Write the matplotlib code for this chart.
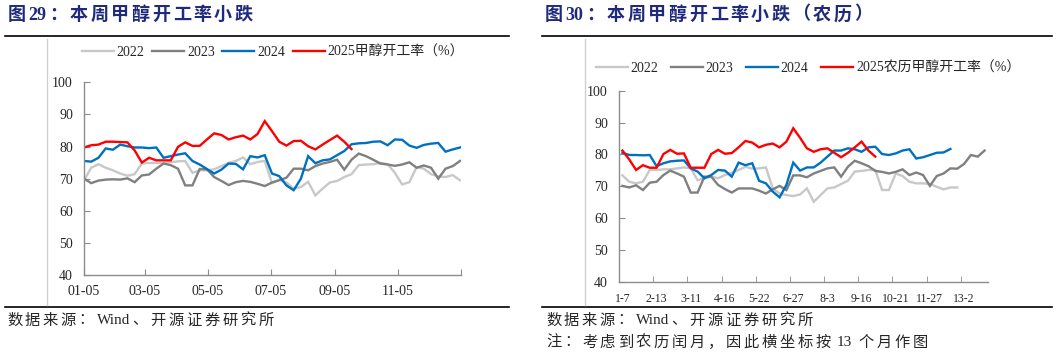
import matplotlib
matplotlib.use("Agg")
import matplotlib.pyplot as plt
from matplotlib.lines import Line2D
import numpy as np
import re

plt.rcParams['font.family'] = ['Liberation Serif', 'Noto Sans CJK SC']

W, H = 1057, 357

# ---------------- data: left chart (weekly, Gregorian) ----------------
left_tick_days = [0, 59, 120, 181, 243, 304, 365]
left_tick_labels = ["01-05", "03-05", "05-05", "07-05", "09-05", "11-05", ""]

left_2022 = [69.5, 73.4, 74.5, 73.4, 72.6, 71.6, 70.9, 71.4, 74.7, 74.9, 74.9, 74.9, 75.1, 75.4,
             75.5, 71.8, 72.6, 72.6, 72.9, 73.9, 74.9, 75.5, 76.6, 74.5, 75.2, 75.5, 68.6, 69.7,
             68.8, 66.9, 67.4, 69.0, 64.8, 66.9, 68.8, 69.3, 70.5, 71.4, 74.2, 74.4, 74.5, 74.9,
             74.5, 71.8, 68.2, 68.9, 73.6, 73.1, 71.4, 70.7, 70.5, 71.1, 69.5]
left_2023 = [70.0, 68.6, 69.4, 69.7, 69.8, 69.7, 70.1, 68.9, 71.0, 71.3, 73.1, 74.7, 74.2, 73.1,
             67.9, 67.9, 73.0, 72.9, 70.5, 69.3, 68.0, 68.9, 69.3, 69.0, 68.4, 67.7, 68.8, 69.5,
             70.3, 73.1, 73.1, 72.6, 73.9, 74.7, 75.2, 75.9, 72.8, 75.9, 77.8, 77.0, 75.9, 74.7,
             74.4, 74.0, 74.4, 75.1, 73.4, 74.1, 73.4, 70.0, 73.1, 73.9, 75.5]
left_2024 = [75.5, 75.3, 76.5, 79.4, 79.0, 80.6, 80.1, 79.7, 79.7, 79.5, 79.7, 76.5, 77.0, 77.5,
             77.9, 75.5, 74.4, 73.0, 71.6, 72.8, 74.7, 74.6, 72.9, 77.0, 76.6, 77.3, 71.6, 70.8,
             67.9, 66.4, 70.0, 77.0, 74.8, 75.7, 76.0, 77.3, 78.6, 80.7, 81.0, 81.1, 81.5, 81.6,
             80.4, 82.2, 82.1, 80.3, 79.6, 80.5, 80.9, 81.1, 78.4, 79.1, 79.7]
left_2025 = [79.7, 80.4, 80.6, 81.5, 81.5, 81.4, 81.3, 78.8, 75.0, 76.5, 75.7, 75.7, 75.7, 79.9,
             81.3, 80.2, 80.2, 82.2, 84.1, 83.6, 82.2, 82.9, 83.4, 82.2, 83.9, 87.9, 84.8, 81.5,
             80.3, 81.7, 81.8, 80.1, 79.1, 80.6, 82.0, 83.4, 81.5, 79.2]

# ---------------- data: right chart (weekly, lunar) ----------------
right_tick_labels = ["1-7", "2-13", "3-11", "4-16", "5-22", "6-27", "8-3", "9-16", "10-21",
                     "11-27", "13-2"]

right_2022 = [73.4, 71.4, 70.9, 71.4, 75.1, 75.1, 75.3, 75.3, 75.6, 75.9, 75.6, 71.9, 72.5, 73.0,
              72.5, 73.5, 74.2, 75.1, 76.1, 75.5, 75.6, 75.9, 69.3, 67.7, 67.2, 66.9, 67.4, 69.3,
              65.1, 67.2, 69.3, 69.6, 70.7, 71.7, 74.6, 74.8, 75.1, 75.1, 68.8, 68.8, 74.0, 73.2,
              71.4, 70.9, 70.9, 70.7, 69.8, 69.0, 69.6, 69.6]
right_2023 = [70.1, 69.6, 70.3, 68.8, 71.1, 71.4, 73.5, 74.9, 74.0, 73.0, 68.0, 68.0, 73.0, 73.0,
              70.4, 69.1, 68.0, 69.3, 69.3, 69.3, 68.6, 67.7, 69.0, 70.1, 68.8, 73.4, 73.4, 72.8,
              74.0, 74.8, 75.6, 75.9, 73.0, 76.1, 78.0, 77.2, 76.3, 74.8, 74.5, 74.0, 74.5, 75.3,
              73.5, 74.3, 73.5, 70.1, 73.2, 74.0, 75.6, 75.5, 77.0, 79.8, 79.3, 81.2]
right_2024 = [80.5, 79.8, 79.8, 79.7, 79.8, 76.3, 77.2, 77.8, 78.0, 78.1, 75.6, 74.6, 72.5, 73.5,
              75.1, 74.9, 73.0, 77.4, 76.6, 77.2, 71.7, 70.9, 68.3, 66.5, 70.4, 77.4, 74.9, 75.9,
              75.9, 77.4, 79.3, 81.2, 81.2, 81.9, 81.6, 80.8, 82.2, 82.4, 80.1, 79.8, 80.3, 81.2,
              81.6, 78.7, 79.1, 79.8, 80.5, 80.6, 81.7]
right_2025 = [81.2, 78.4, 75.1, 76.6, 75.8, 75.8, 80.1, 81.4, 80.2, 80.3, 75.8, 75.8, 75.8, 80.1,
              81.4, 80.2, 80.4, 82.2, 84.2, 83.7, 82.2, 83.0, 83.4, 82.2, 84.0, 88.2, 85.2, 81.9,
              80.8, 81.6, 81.9, 80.5, 79.1, 80.5, 82.2, 84.0, 81.2, 79.3]
n_right_categories = 54

series_names = ["2022", "2023", "2024"]
colors = ["#C8C8C8", "#808080", "#0070C0", "#FF0000"]
TITLE_COLOR = "#1F2A7C"
TEXT_COLOR = "#262626"
AX_COLOR = "#8C8C8C"

fig = plt.figure(figsize=(W / 100, H / 100), dpi=100)
fig.patch.set_facecolor("white")
renderer = fig.canvas.get_renderer()


def fx(px):
    return px / W


def fy(py):
    return 1 - py / H


def spaced_text(x_px, y_px, s, size, track, **kw):
    # keep runs of ASCII letters/digits together; track only between tokens
    tokens = re.findall(r"[A-Za-z0-9]+| |.", s)
    x = x_px
    for tok in tokens:
        if tok == " ":
            x += size * 100 / 72 * 0.25
            continue
        t = fig.text(fx(x), fy(y_px), tok, fontsize=size, va="center", ha="left", **kw)
        bb = t.get_window_extent(renderer)
        x += bb.width + track


def hline(x0, x1, y, color="black", lw=1.2):
    fig.add_artist(Line2D([fx(x0), fx(x1)], [fy(y), fy(y)], color=color, lw=lw))


def vline(x, y0, y1, color="#D0D0D0", lw=1.0):
    fig.add_artist(Line2D([fx(x), fx(x)], [fy(y0), fy(y1)], color=color, lw=lw))


def style_axes(ax):
    for s in ["top", "right"]:
        ax.spines[s].set_visible(False)
    for s in ["left", "bottom"]:
        ax.spines[s].set_color(AX_COLOR)
        ax.spines[s].set_linewidth(1.0)
    ax.set_ylim(40, 100)
    ax.set_yticks(np.arange(40, 101, 10))
    ax.tick_params(axis="both", which="both", direction="in", length=4, color=AX_COLOR,
                   labelcolor=TEXT_COLOR)
    ax.set_facecolor("white")


# ---------------- left chart ----------------
ax1 = fig.add_axes([fx(84), fy(275), (461 - 84) / W, (275 - 82.3) / H])
style_axes(ax1)
lines1 = []
for vals, c, name in zip([left_2022, left_2023, left_2024, left_2025], colors,
                         series_names + ["2025甲醇开工率（%）"]):
    x = np.arange(len(vals)) * 7
    ln, = ax1.plot(x, vals, color=c, lw=1.7, label=name, solid_joinstyle="miter")
    lines1.append(ln)
ax1.set_xlim(0, 365)
ax1.set_xticks(left_tick_days)
ax1.set_xticklabels(left_tick_labels)
ax1.tick_params(axis="y", labelsize=10, pad=8)
ax1.tick_params(axis="x", labelsize=10, pad=7)

leg1 = fig.legend(handles=lines1, loc="center left", bbox_to_anchor=(fx(82), fy(52)),
                  ncol=4, frameon=False, fontsize=10, handlelength=2.3, handletextpad=0.2,
                  columnspacing=0.55, borderpad=0, borderaxespad=0)
for t in leg1.get_texts():
    t.set_color(TEXT_COLOR)

# ---------------- right chart ----------------
ax2 = fig.add_axes([fx(619), fy(281.7), (988 - 619) / W, (281.7 - 90.7) / H])
style_axes(ax2)
lines2 = []
for vals, c, name in zip([right_2022, right_2023, right_2024, right_2025], colors,
                         series_names + ["2025农历甲醇开工率（%）"]):
    x = np.arange(len(vals))
    ln, = ax2.plot(x, vals, color=c, lw=1.7, label=name, solid_joinstyle="miter")
    lines2.append(ln)
ax2.set_xlim(-0.5, n_right_categories - 0.5)
ax2.set_xticks(np.arange(len(right_tick_labels)) * 5)
ax2.set_xticklabels(right_tick_labels)
ax2.set_xticks(np.arange(1, len(right_tick_labels)) * 5 - 0.5, minor=True)
ax2.tick_params(axis="x", which="major", length=0, labelsize=8.5, pad=8)
ax2.tick_params(axis="x", which="minor", length=4)
ax2.tick_params(axis="y", labelsize=10, pad=8)

leg2 = fig.legend(handles=lines2, loc="center left", bbox_to_anchor=(fx(596), fy(68)),
                  ncol=4, frameon=False, fontsize=10, handlelength=2.3, handletextpad=0.2,
                  columnspacing=0.9, borderpad=0, borderaxespad=0)
for t in leg2.get_texts():
    t.set_color(TEXT_COLOR)

# ---------------- titles, rules, notes ----------------
spaced_text(8, 15, "图29：本周甲醇开工率小跌", 13, 2.6, color=TITLE_COLOR, fontweight="bold")
spaced_text(545, 15, "图30：本周甲醇开工率小跌（农历）", 13, 2.6, color=TITLE_COLOR,
            fontweight="bold")

hline(5, 509, 36)
hline(542, 1052, 36)
hline(5, 509, 307)
hline(542, 1052, 307)
vline(47, 39, 305)
vline(585, 39, 305)

spaced_text(7, 321, "数据来源：Wind、开源证券研究所", 11, 2.7, color=TEXT_COLOR)
spaced_text(546, 321, "数据来源：Wind、开源证券研究所", 11, 2.7, color=TEXT_COLOR)
spaced_text(546, 343, "注：考虑到农历闰月，因此横坐标按 13 个月作图", 11, 2.7, color=TEXT_COLOR)

fig.savefig("out.png", dpi=100, facecolor="white")
